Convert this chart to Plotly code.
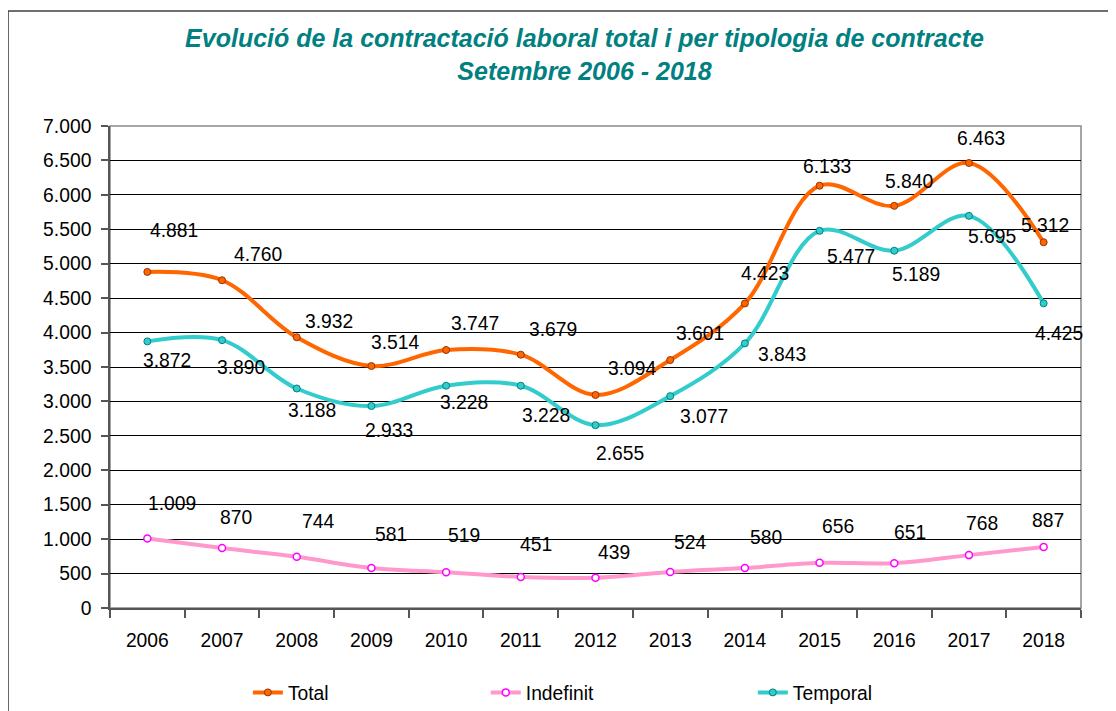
import plotly.graph_objects as go

# ---------------- data ----------------
years = ["2006", "2007", "2008", "2009", "2010", "2011", "2012",
         "2013", "2014", "2015", "2016", "2017", "2018"]
total = [4881, 4760, 3932, 3514, 3747, 3679, 3094, 3601, 4423, 6133, 5840, 6463, 5312]
indefinit = [1009, 870, 744, 581, 519, 451, 439, 524, 580, 656, 651, 768, 887]
temporal = [3872, 3890, 3188, 2933, 3228, 3228, 2655, 3077, 3843, 5477, 5189, 5695, 4425]
y_ticks = list(range(0, 7001, 500))

# label offsets (pixels, dx right, dy down) -- style only
total_off = [(27, -41), (36, -26), (32, -16), (24, -24), (29, -26), (32, -25), (37, -26),
             (30, -27), (20, -30), (7, -19), (15, -24), (12, -24), (1, -17)]
indef_off = [(25, -35), (14, -31), (21, -35), (20, -33), (18, -37), (15, -32), (18, -25),
             (20, -29), (21, -31), (18, -36), (16, -31), (13, -32), (4, -26)]
temp_off = [(20, 19), (19, 27), (15, 22), (18, 24), (18, 17), (25, 30), (24, 28),
            (34, 20), (37, 11), (31, 26), (22, 24), (23, 21), (15, 30)]

FONT = "Arial, Liberation Sans, sans-serif"
FS = 19.3


def fmt(v):
    return f"{v:,}".replace(",", ".")


fig = go.Figure()

series = [
    ("Total", total, "#FF6600", dict(color="#FF6600", line=dict(color="#993300", width=1)), "legend"),
    ("Indefinit", indefinit, "#FF99CC", dict(color="white", line=dict(color="#FF00FF", width=1.5)), "legend2"),
    ("Temporal", temporal, "#33CCCC", dict(color="#33CCCC", line=dict(color="#008080", width=1)), "legend3"),
]
for name, vals, lc, mk, lg in series:
    fig.add_trace(go.Scatter(
        x=years, y=vals, name=name, mode="lines+markers",
        line=dict(color=lc, width=4, shape="spline", smoothing=1),
        marker=dict(symbol="circle", size=7, **mk),
        legend=lg, cliponaxis=False, showlegend=True,
    ))

annotations = []
for vals, offs in [(total, total_off), (indefinit, indef_off), (temporal, temp_off)]:
    for i, (v, (dx, dy)) in enumerate(zip(vals, offs)):
        annotations.append(dict(
            x=i, y=v, xref="x", yref="y", text=fmt(v), showarrow=False,
            xshift=dx, yshift=-dy, xanchor="center", yanchor="middle",
            font=dict(family=FONT, size=FS, color="black"),
        ))

legend_common = dict(orientation="h", y=-0.176, xanchor="left", yanchor="middle",
                     font=dict(family=FONT, size=FS, color="black"),
                     bgcolor="rgba(0,0,0,0)")

fig.update_layout(
    width=1116, height=711,
    margin=dict(l=102, r=43, t=118, b=111, autoexpand=False),
    paper_bgcolor="white", plot_bgcolor="white",
    separators=",.",
    font=dict(family=FONT, size=FS, color="black"),
    title=dict(
        text="Evolució de la contractació laboral total i per tipologia de contracte<br>Setembre 2006 - 2018",
        x=576.5 / 1116, xref="container", xanchor="center",
        y=1 - 39 / 711, yref="container", yanchor="top",
        font=dict(family=FONT, size=25, color="#008080", weight="bold", style="italic"),
    ),
    xaxis=dict(
        type="category", categoryorder="array", categoryarray=years,
        range=[-0.5, len(years) - 0.5], automargin=False,
        showgrid=False, showline=True, linecolor="#555555", linewidth=1.5,
        ticks="outside", tickson="boundaries", ticklen=8, tickcolor="#555555", tickwidth=1.5,
        tickangle=0, ticklabelstandoff=14, tickfont=dict(family=FONT, size=FS, color="black"),
    ),
    yaxis=dict(
        range=[0, 7000], tickvals=y_ticks, tickformat=",d", automargin=False,
        showgrid=True, gridcolor="black", gridwidth=1, zeroline=False,
        showline=True, linecolor="#555555", linewidth=1.5,
        ticks="outside", ticklen=7, tickcolor="#555555", tickwidth=1.5,
        ticklabelstandoff=6, tickfont=dict(family=FONT, size=FS, color="black"),
    ),
    legend=dict(x=0.142, **legend_common),
    legend2=dict(x=0.387, **legend_common),
    legend3=dict(x=0.662, **legend_common),
    annotations=annotations,
    shapes=[
        # plot-area frame (top/right)
        dict(type="rect", xref="paper", yref="paper", x0=0, x1=1, y0=0, y1=1,
             line=dict(color="#888888", width=1.5), layer="below"),
        # outer chart border
        dict(type="rect", xref="paper", yref="paper", x0=-0.105, x1=1.0299, y0=-0.25, y1=1.2386,
             line=dict(color="#404040", width=1.5)),
    ],
)

fig.write_html("out.html")
